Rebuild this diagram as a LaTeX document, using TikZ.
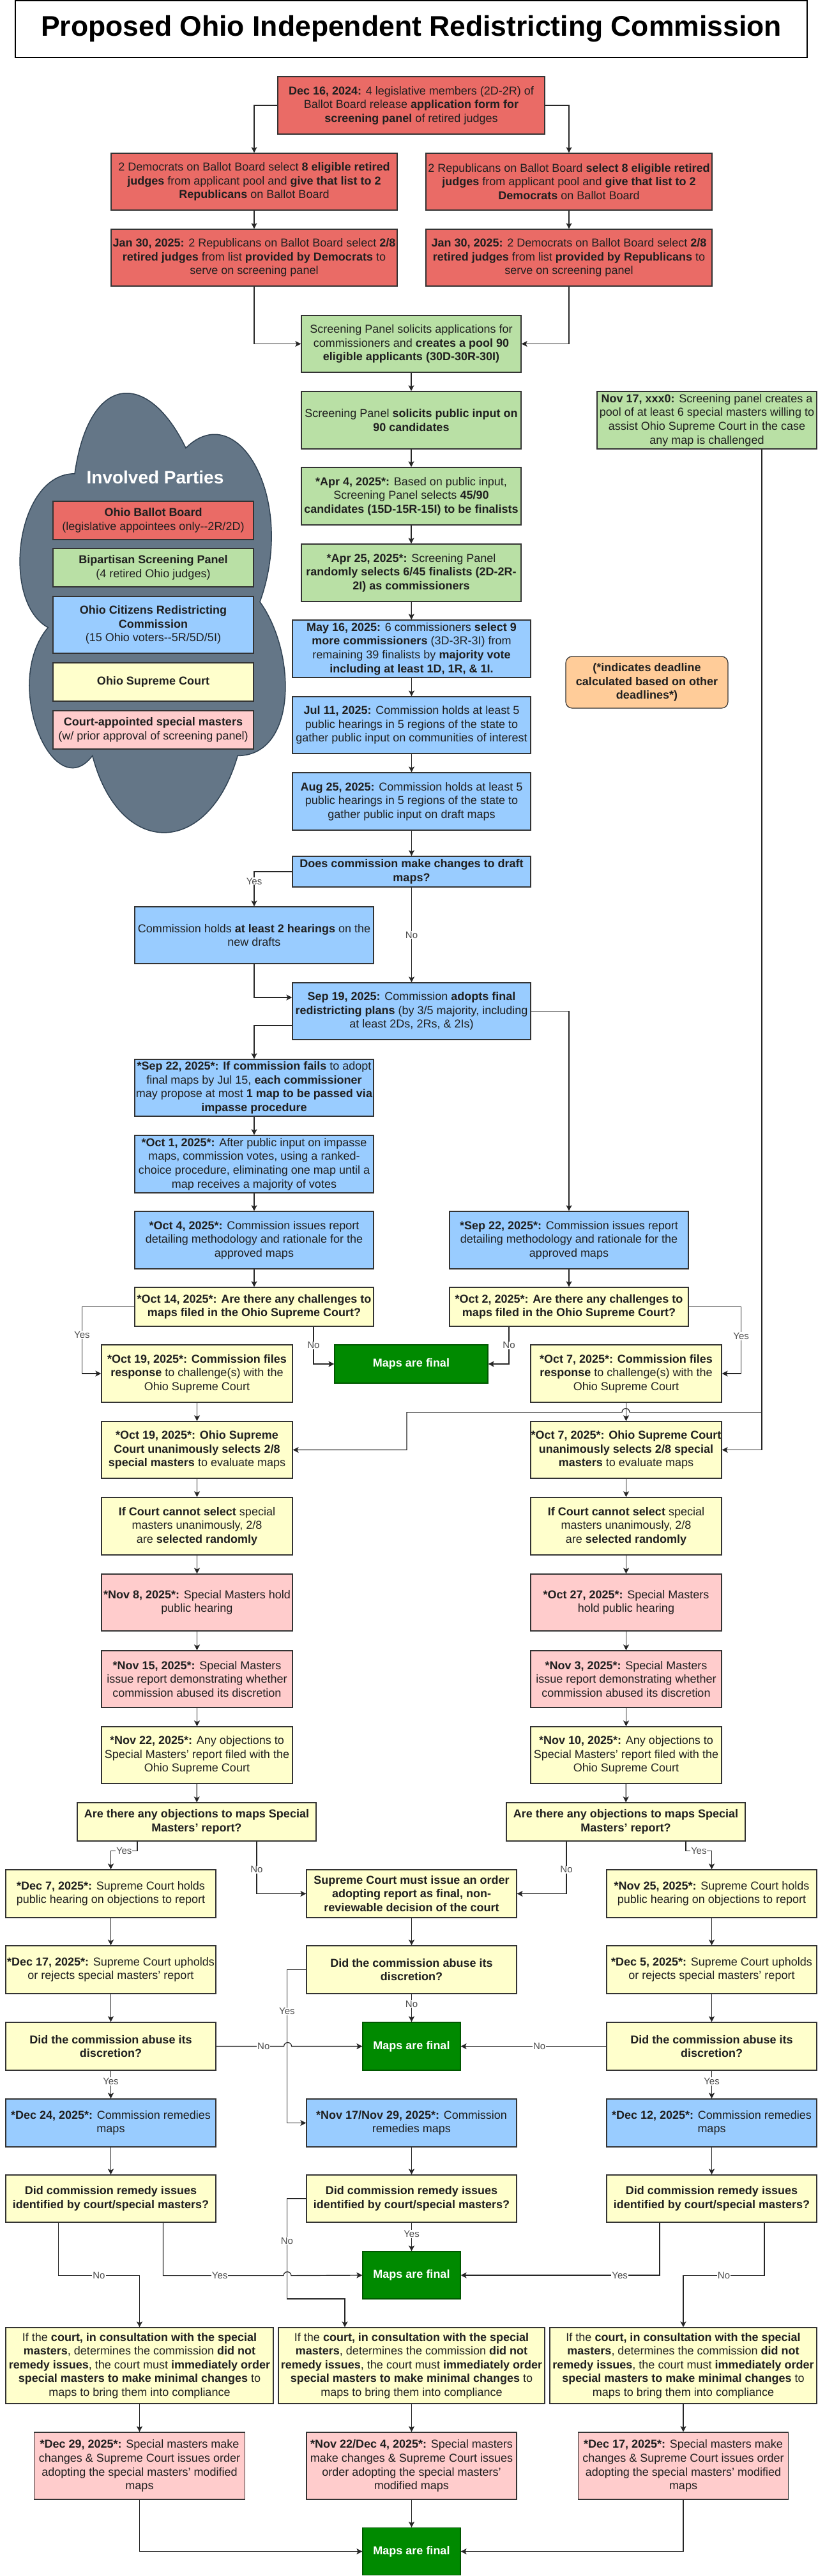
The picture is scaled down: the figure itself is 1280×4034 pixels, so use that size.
\documentclass[tikz,border=0pt]{standalone}
\usepackage{fontspec}
\setmainfont{Liberation Sans}
\usetikzlibrary{arrows.meta}

\definecolor{redfill}{HTML}{EA6B66}
\definecolor{greenfill}{HTML}{B9E0A5}
\definecolor{bluefill}{HTML}{99CCFF}
\definecolor{yelfill}{HTML}{FFFFCC}
\definecolor{pinkfill}{HTML}{FFCCCC}
\definecolor{finalfill}{HTML}{008A00}
\definecolor{finalline}{HTML}{005700}
\definecolor{notefill}{HTML}{FFCC99}
\definecolor{cloudfill}{HTML}{647687}
\definecolor{cloudline}{HTML}{314354}
\definecolor{boxline}{HTML}{333333}
\definecolor{boxtext}{HTML}{1F1F1F}
\definecolor{lbltext}{HTML}{4D4D4D}

\tikzset{
  box/.style={draw=boxline, line width=1.2pt, inner sep=0pt, align=center, text=boxtext,
    font=\fontsize{18}{21.6}\selectfont},
  boxsize/.style 2 args={minimum width=#1pt, minimum height=#2pt},
  redbox/.style={box, fill=redfill},
  greenbox/.style={box, fill=greenfill},
  bluebox/.style={box, fill=bluefill},
  yelbox/.style={box, fill=yelfill},
  pinkbox/.style={box, fill=pinkfill},
  finalbox/.style={box, fill=finalfill, draw=finalline, text=white, font=\fontsize{18}{21.6}\selectfont\bfseries},
  notebox/.style={box, fill=notefill, rounded corners=10pt, font=\fontsize{18}{21.6}\selectfont\bfseries},
  flow/.style={draw=black!85, line width=1.2pt, -{Stealth[length=9pt,width=9pt,inset=2pt]}},
  lbl/.style={fill=white, inner sep=1pt, text=lbltext, font=\fontsize{15}{18}\selectfont},
}

\begin{document}
\begin{tikzpicture}[x=1pt, y=-1pt]
\fill[white] (0,0) rectangle (1280,4034);
\useasboundingbox (0,0) rectangle (1280,4034);

% title
\node[draw=black, line width=1.2pt, boxsize={1240}{89}, font=\fontsize{44.5}{53}\selectfont\bfseries] (title) at (644,45.5) {Proposed Ohio Independent Redistricting Commission};

% legend cloud
\draw[fill=cloudfill, draw=cloudline, line width=1.5pt] (117,741.75) .. controls (24.2,741.75) and (1,942.5) .. (75.2,982.65) .. controls (1,1071) and (84.5,1263.7) .. (144.8,1183.4) .. controls (186.6,1344) and (325.8,1344) .. (372.2,1183.4) .. controls (465,1183.4) and (465,1022.8) .. (407,942.5) .. controls (465,781.9) and (372.2,621.3) .. (291,701.6) .. controls (233,581.15) and (140.2,581.15) .. cycle;
\node[text=white, font=\fontsize{28}{33}\selectfont\bfseries] (parties) at (243,747) {Involved Parties};
\node[redbox, boxsize={314}{60}] (lgballot) at (240,815) {\textbf{Ohio Ballot Board}\\(legislative appointees only-{}-2R/2D)};
\node[greenbox, boxsize={314}{60}] (lgpanel) at (240,889) {\textbf{Bipartisan Screening Panel}\\(4 retired Ohio judges)};
\node[bluebox, boxsize={314}{89}] (lgcomm) at (240,978.5) {\textbf{Ohio Citizens Redistricting}\\\textbf{Commission}\\(15 Ohio voters-{}-5R/5D/5I)};
\node[yelbox, boxsize={314}{60}] (lgcourt) at (240,1068) {\textbf{Ohio Supreme Court}};
\node[pinkbox, boxsize={314}{60}] (lgmasters) at (240,1143) {\textbf{Court-appointed special masters}\\(w/ prior approval of screening panel)};

% ballot board
\node[redbox, boxsize={418}{90}] (dec16) at (644,165) {\textbf{Dec 16, 2024:} 4 legislative members (2D-2R) of\\Ballot Board release \textbf{application form for}\\\textbf{screening panel} of retired judges};
\node[redbox, boxsize={448}{89}] (demD) at (398,284.5) {2 Democrats on Ballot Board select \textbf{8 eligible retired}\\\textbf{judges} from applicant pool and \textbf{give that list to 2}\\\textbf{Republicans} on Ballot Board};
\node[redbox, boxsize={448}{89}] (repR) at (891,284.5) {2 Republicans on Ballot Board \textbf{select 8 eligible retired}\\\textbf{judges} from applicant pool and \textbf{give that list to 2}\\\textbf{Democrats} on Ballot Board};
\node[redbox, boxsize={448}{89}] (janD) at (398,403.5) {\textbf{Jan 30, 2025:} 2 Republicans on Ballot Board select \textbf{2/8}\\\textbf{retired judges} from list \textbf{provided by Democrats} to\\serve on screening panel};
\node[redbox, boxsize={448}{89}] (janR) at (891,403.5) {\textbf{Jan 30, 2025:} 2 Democrats on Ballot Board select \textbf{2/8}\\\textbf{retired judges} from list \textbf{provided by Republicans} to\\serve on screening panel};

% screening panel
\node[greenbox, boxsize={344}{89}] (sp1) at (644,538.5) {Screening Panel solicits applications for\\commissioners and \textbf{creates a pool 90}\\\textbf{eligible applicants (30D-30R-30I)}};
\node[greenbox, boxsize={344}{90}] (sp2) at (644,658) {Screening Panel \textbf{solicits public input on}\\\textbf{90 candidates}};
\node[greenbox, boxsize={344}{90}] (apr4) at (644,777) {\textbf{*Apr 4, 2025*:} Based on public input,\\Screening Panel selects \textbf{45/90}\\\textbf{candidates (15D-15R-15I) to be finalists}};
\node[greenbox, boxsize={344}{90}] (apr25) at (644,897) {\textbf{*Apr 25, 2025*:} Screening Panel\\\textbf{randomly selects 6/45 finalists (2D-2R-}\\\textbf{2I) as commissioners}};
\node[greenbox, boxsize={344}{90}] (nov17) at (1107,658) {\textbf{Nov 17, xxx0:} Screening panel creates a\\pool of at least 6 special masters willing to\\assist Ohio Supreme Court in the case\\any map is challenged};
\node[notebox, boxsize={254}{81}] (note) at (1013,1068.5) {(*indicates deadline\\calculated based on other\\deadlines*)};

% commission
\node[bluebox, boxsize={373}{90}] (may16) at (644.5,1016) {\textbf{May 16, 2025:} 6 commissioners \textbf{select 9}\\\textbf{more commissioners} (3D-3R-3I) from\\remaining 39 finalists by \textbf{majority vote}\\\textbf{including at least 1D, 1R, \& 1I.}};
\node[bluebox, boxsize={373}{89}] (jul11) at (644.5,1135.5) {\textbf{Jul 11, 2025:} Commission holds at least 5\\public hearings in 5 regions of the state to\\gather public input on communities of interest};
\node[bluebox, boxsize={373}{90}] (aug25) at (644.5,1255) {\textbf{Aug 25, 2025:} Commission holds at least 5\\public hearings in 5 regions of the state to\\gather public input on draft maps};
\node[bluebox, boxsize={373}{48}] (drafts) at (644.5,1365) {\textbf{Does commission make changes to draft}\\\textbf{maps?}};
\node[bluebox, boxsize={374}{89}] (hear2) at (398,1464.5) {Commission holds \textbf{at least 2 hearings} on the\\new drafts};
\node[bluebox, boxsize={373}{89}] (sep19) at (644.5,1583.5) {\textbf{Sep 19, 2025:} Commission \textbf{adopts final}\\\textbf{redistricting plans} (by 3/5 majority, including\\at least 2Ds, 2Rs, \& 2Is)};
\node[bluebox, boxsize={374}{89}] (sep22a) at (398,1703.5) {\textbf{*Sep 22, 2025*: If commission fails} to adopt\\final maps by Jul 15, \textbf{each commissioner}\\may propose at most \textbf{1 map to be passed via}\\\textbf{impasse procedure}};
\node[bluebox, boxsize={374}{90}] (oct1) at (398,1823) {\textbf{*Oct 1, 2025*:} After public input on impasse\\maps, commission votes, using a ranked-\\choice procedure, eliminating one map until a\\map receives a majority of votes};
\node[bluebox, boxsize={374}{90}] (oct4) at (398,1942) {\textbf{*Oct 4, 2025*:} Commission issues report\\detailing methodology and rationale for the\\approved maps};
\node[bluebox, boxsize={374}{90}] (sep22b) at (891,1942) {\textbf{*Sep 22, 2025*:} Commission issues report\\detailing methodology and rationale for the\\approved maps};

% court, left and right
\node[yelbox, boxsize={374}{61}] (oct14) at (398,2046.5) {\textbf{*Oct 14, 2025*: Are there any challenges to}\\\textbf{maps filed in the Ohio Supreme Court?}};
\node[yelbox, boxsize={374}{61}] (oct2) at (891,2046.5) {\textbf{*Oct 2, 2025*: Are there any challenges to}\\\textbf{maps filed in the Ohio Supreme Court?}};
\node[finalbox, boxsize={240}{60}] (final1) at (644,2136) {Maps are final};
\node[yelbox, boxsize={299}{90}] (file19) at (308.5,2151) {\textbf{*Oct 19, 2025*: Commission files}\\\textbf{response} to challenge(s) with the\\Ohio Supreme Court};
\node[yelbox, boxsize={299}{90}] (file7) at (980.5,2151) {\textbf{*Oct 7, 2025*: Commission files}\\\textbf{response} to challenge(s) with the\\Ohio Supreme Court};
\node[yelbox, boxsize={299}{89}] (sel19) at (308.5,2270.5) {\textbf{*Oct 19, 2025*: Ohio Supreme}\\\textbf{Court unanimously selects 2/8}\\\textbf{special masters} to evaluate maps};
\node[yelbox, boxsize={299}{89}] (sel7) at (980.5,2270.5) {\textbf{*Oct 7, 2025*: Ohio Supreme Court}\\\textbf{unanimously selects 2/8 special}\\\textbf{masters} to evaluate maps};
\node[yelbox, boxsize={299}{90}] (randL) at (308.5,2390) {\textbf{If Court cannot select} special\\masters unanimously, 2/8\\are \textbf{selected randomly}};
\node[yelbox, boxsize={299}{90}] (randR) at (980.5,2390) {\textbf{If Court cannot select} special\\masters unanimously, 2/8\\are \textbf{selected randomly}};
\node[pinkbox, boxsize={299}{89}] (nov8) at (308.5,2509.5) {\textbf{*Nov 8, 2025*:} Special Masters hold\\public hearing};
\node[pinkbox, boxsize={299}{89}] (oct27) at (980.5,2509.5) {\textbf{*Oct 27, 2025*:} Special Masters\\hold public hearing};
\node[pinkbox, boxsize={299}{89}] (nov15) at (308.5,2629.5) {\textbf{*Nov 15, 2025*:} Special Masters\\issue report demonstrating whether\\commission abused its discretion};
\node[pinkbox, boxsize={299}{89}] (nov3) at (980.5,2629.5) {\textbf{*Nov 3, 2025*:} Special Masters\\issue report demonstrating whether\\commission abused its discretion};
\node[yelbox, boxsize={299}{89}] (nov22) at (308.5,2748.5) {\textbf{*Nov 22, 2025*:} Any objections to\\Special Masters' report filed with the\\Ohio Supreme Court};
\node[yelbox, boxsize={299}{89}] (nov10) at (980.5,2748.5) {\textbf{*Nov 10, 2025*:} Any objections to\\Special Masters' report filed with the\\Ohio Supreme Court};
\node[yelbox, boxsize={374}{60}] (objL) at (308,2853) {\textbf{Are there any objections to maps Special}\\\textbf{Masters' report?}};
\node[yelbox, boxsize={374}{60}] (objR) at (980,2853) {\textbf{Are there any objections to maps Special}\\\textbf{Masters' report?}};

% three columns
\node[yelbox, boxsize={329}{75}] (dec7) at (173.5,2965.5) {\textbf{*Dec 7, 2025*:} Supreme Court holds\\public hearing on objections to report};
\node[yelbox, boxsize={329}{75}] (order) at (644.5,2965.5) {\textbf{Supreme Court must issue an order}\\\textbf{adopting report as final, non-}\\\textbf{reviewable decision of the court}};
\node[yelbox, boxsize={329}{75}] (nov25) at (1114.5,2965.5) {\textbf{*Nov 25, 2025*:} Supreme Court holds\\public hearing on objections to report};
\node[yelbox, boxsize={329}{75}] (dec17a) at (173.5,3084.5) {\textbf{*Dec 17, 2025*:} Supreme Court upholds\\or rejects special masters' report};
\node[yelbox, boxsize={329}{75}] (abuseC) at (644.5,3084.5) {\textbf{Did the commission abuse its}\\\textbf{discretion?}};
\node[yelbox, boxsize={329}{75}] (dec5) at (1114.5,3084.5) {\textbf{*Dec 5, 2025*:} Supreme Court upholds\\or rejects special masters' report};
\node[yelbox, boxsize={329}{75}] (abuseL) at (173.5,3204.5) {\textbf{Did the commission abuse its}\\\textbf{discretion?}};
\node[finalbox, boxsize={153}{75}] (final2) at (644.5,3204.5) {Maps are final};
\node[yelbox, boxsize={329}{75}] (abuseR) at (1114.5,3204.5) {\textbf{Did the commission abuse its}\\\textbf{discretion?}};
\node[bluebox, boxsize={329}{75}] (dec24) at (173.5,3324.5) {\textbf{*Dec 24, 2025*:} Commission remedies\\maps};
\node[bluebox, boxsize={329}{75}] (nov17b) at (644.5,3324.5) {\textbf{*Nov 17/Nov 29, 2025*:} Commission\\remedies maps};
\node[bluebox, boxsize={329}{75}] (dec12) at (1114.5,3324.5) {\textbf{*Dec 12, 2025*:} Commission remedies\\maps};
\node[yelbox, boxsize={329}{74}] (remL) at (173.5,3443) {\textbf{Did commission remedy issues}\\\textbf{identified by court/special masters?}};
\node[yelbox, boxsize={329}{74}] (remC) at (644.5,3443) {\textbf{Did commission remedy issues}\\\textbf{identified by court/special masters?}};
\node[yelbox, boxsize={329}{74}] (remR) at (1114.5,3443) {\textbf{Did commission remedy issues}\\\textbf{identified by court/special masters?}};
\node[finalbox, boxsize={153}{74}] (final3) at (644.5,3563) {Maps are final};
\node[yelbox, boxsize={419}{119}] (ordL) at (218.5,3704.5) {If the \textbf{court, in consultation with the special}\\\textbf{masters}, determines the commission \textbf{did not}\\\textbf{remedy issues}, the court must \textbf{immediately order}\\\textbf{special masters to make minimal changes} to\\maps to bring them into compliance};
\node[yelbox, boxsize={417}{119}] (ordC) at (644.5,3704.5) {If the \textbf{court, in consultation with the special}\\\textbf{masters}, determines the commission \textbf{did not}\\\textbf{remedy issues}, the court must \textbf{immediately order}\\\textbf{special masters to make minimal changes} to\\maps to bring them into compliance};
\node[yelbox, boxsize={418}{119}] (ordR) at (1070,3704.5) {If the \textbf{court, in consultation with the special}\\\textbf{masters}, determines the commission \textbf{did not}\\\textbf{remedy issues}, the court must \textbf{immediately order}\\\textbf{special masters to make minimal changes} to\\maps to bring them into compliance};
\node[pinkbox, boxsize={330}{105}] (modL) at (218.5,3861.5) {\textbf{*Dec 29, 2025*:} Special masters make\\changes \& Supreme Court issues order\\adopting the special masters' modified\\maps};
\node[pinkbox, boxsize={329}{105}] (modC) at (644.5,3861.5) {\textbf{*Nov 22/Dec 4, 2025*:} Special masters\\make changes \& Supreme Court issues\\order adopting the special masters'\\modified maps};
\node[pinkbox, boxsize={329}{105}] (modR) at (1070,3861.5) {\textbf{*Dec 17, 2025*:} Special masters make\\changes \& Supreme Court issues order\\adopting the special masters' modified\\maps};
\node[finalbox, boxsize={153}{74}] (final4) at (644.5,3995.5) {Maps are final};

% connectors, top part
\draw[flow] (dec16.west) -| (demD.north);
\draw[flow] (dec16.east) -| (repR.north);
\draw[flow] (demD) -- (janD);
\draw[flow] (repR) -- (janR);
\draw[flow] (janD.south) |- (sp1.west);
\draw[flow] (janR.south) |- (sp1.east);
\draw[flow] (sp1) -- (sp2);
\draw[flow] (sp2) -- (apr4);
\draw[flow] (apr4) -- (apr25);
\draw[flow] (apr25) -- (may16);
\draw[flow] (may16) -- (jul11);
\draw[flow] (jul11) -- (aug25);
\draw[flow] (aug25) -- (drafts);
\draw[flow] (drafts.west) -| node[lbl,pos=0.64]{Yes} (hear2.north);
\draw[flow] (drafts) -- node[lbl]{No} (sep19);
\draw[flow] (hear2.south) |- ([yshift=21.5pt]sep19.west);
\draw[flow] ([yshift=-22.5pt]sep19.west) -| (sep22a.north);
\draw[flow] (sep19.east) -| (sep22b.north);
\draw[flow] (sep22a) -- (oct1);
\draw[flow] (oct1) -- (oct4);
\draw[flow] (oct4) -- (oct14);
\draw[flow] (sep22b) -- (oct2);

% challenges
\draw[flow] (oct14.west) -- ++(-82,0) |- node[lbl,pos=0.21]{Yes} (file19.west);
\draw[flow] ([xshift=93pt]oct14.south) |- node[lbl,pos=0.25]{No} (final1.west);
\draw[flow] ([xshift=-94pt]oct2.south) |- node[lbl,pos=0.25]{No} (final1.east);
\draw[flow] (oct2.east) -- ++(82,0) |- node[lbl,pos=0.22]{Yes} (file7.east);
\draw[flow] ([xshift=86pt]nov17.south) |- (sel7.east);
\draw[flow] ([xshift=86pt]nov17.south) -- ++(0,1508) -- ++(-207,0) arc[start angle=0,end angle=180,radius=6pt] -- ++(-337,0) |- (sel19.east);
\draw[flow] (file19) -- (sel19);
\draw[flow] (sel19) -- (randL);
\draw[flow] (randL) -- (nov8);
\draw[flow] (nov8) -- (nov15);
\draw[flow] (nov15) -- (nov22);
\draw[flow] (nov22) -- (objL);
\draw[flow] (file7) -- (sel7);
\draw[flow] (sel7) -- (randR);
\draw[flow] (randR) -- (oct27);
\draw[flow] (oct27) -- (nov3);
\draw[flow] (nov3) -- (nov10);
\draw[flow] (nov10) -- (objR);

% objections
\draw[flow] ([xshift=-93pt]objL.south) -- ++(0,15) -| node[lbl,pos=0.25]{Yes} (dec7.north);
\draw[flow] ([xshift=94pt]objL.south) |- node[lbl,pos=0.27]{No} (order.west);
\draw[flow] ([xshift=-93pt]objR.south) |- node[lbl,pos=0.27]{No} (order.east);
\draw[flow] ([xshift=94pt]objR.south) -- ++(0,15) -| node[lbl,pos=0.25]{Yes} (nov25.north);
\draw[flow] (dec7) -- (dec17a);
\draw[flow] (dec17a) -- (abuseL);
\draw[flow] (order) -- (abuseC);
\draw[flow] (nov25) -- (dec5);
\draw[flow] (dec5) -- (abuseR);

% abuse of discretion
\draw[flow] (abuseC) -- node[lbl,pos=0.35]{No} (final2);
\draw[flow] (abuseC.west) -- ++(-30,0) |- node[lbl,pos=0.136]{Yes} (nov17b.west);
\draw[flow] (abuseL.east) -- node[lbl,pos=0.7]{No} ++(106,0) arc[start angle=180,end angle=0,radius=6pt] -- (final2.west);
\draw[flow] (abuseR.west) -- node[lbl,pos=0.46]{No} (final2.east);
\draw[flow] (abuseL) -- node[lbl,pos=0.38]{Yes} (dec24);
\draw[flow] (abuseR) -- node[lbl,pos=0.38]{Yes} (dec12);
\draw[flow] (dec24) -- (remL);
\draw[flow] (nov17b) -- (remC);
\draw[flow] (dec12) -- (remR);

% remedies
\draw[flow] ([xshift=-82pt]remL.south) -- ++(0,83) -| node[lbl,pos=0.25]{No} (ordL.north);
\draw[flow] ([xshift=82pt]remL.south) -- ++(0,83) -- node[lbl,pos=0.47]{Yes} ++(188.5,0) arc[start angle=180,end angle=0,radius=6pt] -- (final3.west);
\draw[flow] (remC) -- node[lbl,pos=0.4]{Yes} (final3);
\draw[flow] (remC.west) -- ++(-30,0) -- node[lbl,pos=0.42]{No} ++(0,157) -| ([xshift=-104.5pt]ordC.north);
\draw[flow] ([xshift=-81.5pt]remR.south) |- node[lbl,pos=0.6]{Yes} (final3.east);
\draw[flow] ([xshift=82.5pt]remR.south) -- ++(0,83) -| node[lbl,pos=0.25]{No} (ordR.north);
\draw[flow] (ordL.south) -- (modL.north);
\draw[flow] (ordC.south) -- (modC.north);
\draw[flow] (ordR.south) -- (modR.north);
\draw[flow] (modL.south) |- (final4.west);
\draw[flow] (modC) -- (final4);
\draw[flow] (modR.south) |- (final4.east);

\end{tikzpicture}
\end{document}
